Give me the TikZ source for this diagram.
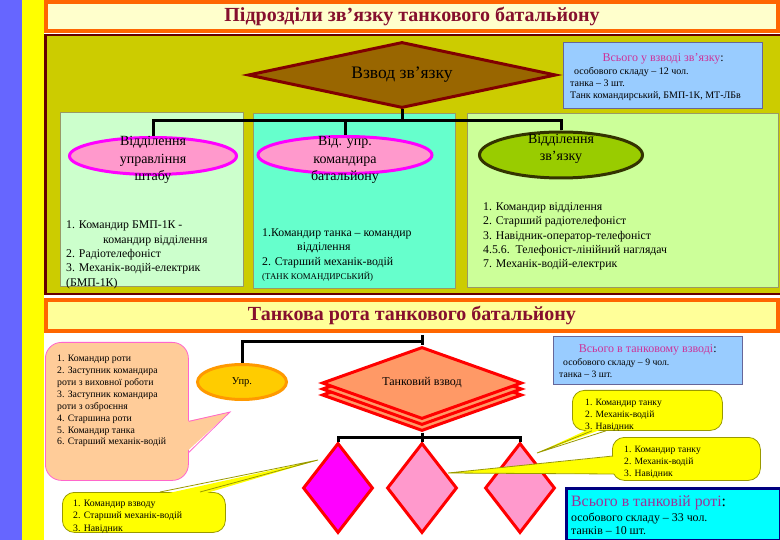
\documentclass[tikz,border=0pt]{standalone}
\usepackage{fontspec}
\setmainfont{Liberation Serif}
\usetikzlibrary{shapes.geometric, calc}

\definecolor{stripblue}{HTML}{6666FF}
\definecolor{stripyellow}{HTML}{FFFF00}
\definecolor{headorange}{HTML}{FF6600}
\definecolor{headred}{HTML}{86102E}
\definecolor{headfillA}{HTML}{FFFFCC}
\definecolor{headfillB}{HTML}{FFFF99}
\definecolor{panelolive}{HTML}{CCCC00}
\definecolor{panelborder}{HTML}{660000}
\definecolor{boxmint}{HTML}{CCFFCC}
\definecolor{boxaqua}{HTML}{66FFCC}
\definecolor{boxlime}{HTML}{CCFF99}
\definecolor{boxedge}{HTML}{999966}
\definecolor{rhombbrown}{HTML}{996600}
\definecolor{rhombedge}{HTML}{800000}
\definecolor{infoblue}{HTML}{99CCFF}
\definecolor{infoedge}{HTML}{666699}
\definecolor{ovalpink}{HTML}{FF99CC}
\definecolor{ovalmagenta}{HTML}{FF00FF}
\definecolor{ovalgreen}{HTML}{99CC00}
\definecolor{ovaledge}{HTML}{333300}
\definecolor{titlemagenta}{HTML}{CC3399}
\definecolor{uprgold}{HTML}{FFCC00}
\definecolor{upredge}{HTML}{FF9900}
\definecolor{platoonsalmon}{HTML}{FF9966}
\definecolor{tankpink}{HTML}{FF99CC}
\definecolor{tankmagenta}{HTML}{FF00FF}
\definecolor{peach}{HTML}{FFCC99}
\definecolor{peachedge}{HTML}{FF66CC}
\definecolor{bubbleyellow}{HTML}{FFFF00}
\definecolor{bubbleedge}{HTML}{999900}
\definecolor{totalcyan}{HTML}{00FFFF}
\definecolor{totaledge}{HTML}{000080}
\definecolor{totalpurple}{HTML}{993399}

\begin{document}
\begin{tikzpicture}[x=1pt, y=-1pt,
    tree/.style={line width=3pt, black},
    headbox/.style={draw=headorange, line width=4pt, minimum width=732pt, inner sep=0pt,
        text=headred, font=\bfseries\fontsize{20}{24}\selectfont},
    unitbox/.style={draw=#1, line width=0.8pt, anchor=north west, inner sep=0pt},
    pinkoval/.style={ellipse, draw=ovalmagenta, line width=3pt, fill=ovalpink, inner sep=0pt},
    ovaltext/.style={align=center, inner sep=0pt, font=\fontsize{14}{17.4}\selectfont},
    listtext/.style={align=left, anchor=north west, inner sep=0pt},
    infobox/.style={draw=infoedge, line width=1pt, fill=infoblue, anchor=north west, inner sep=0pt},
    platoon/.style={diamond, shape aspect=2.8, draw=red, line width=3pt, fill=platoonsalmon, inner sep=0pt,
        minimum width=200pt, minimum height=72pt},
    tankrhomb/.style={diamond, draw=red, line width=3pt, inner sep=0pt,
        minimum width=70pt, minimum height=90pt},
    bubble/.style={fill=bubbleyellow, draw=bubbleedge, line width=0.8pt, rounded corners=12pt,
        anchor=north west, inner sep=0pt},
]
    % Page and side strips
    \useasboundingbox (0,0) rectangle (780,540);
    \fill[white] (0,0) rectangle (780,540);
    \fill[stripblue] (0,0) rectangle (22,540);
    \fill[stripyellow] (22,0) rectangle (44,540);

    % Upper part: signal platoon
    \node[headbox, fill=headfillA, minimum height=29pt] (head1) at (412,16.5) {Підрозділи зв’язку танкового батальйону};
    \draw[fill=panelolive, draw=panelborder, line width=2.5pt] (45.5,35) rectangle (781,294);

    \node[unitbox=boxedge, fill=boxmint, minimum width=183pt, minimum height=174pt] (box1) at (60,112) {};
    \node[unitbox=boxedge, fill=boxaqua, minimum width=202pt, minimum height=175pt] (box2) at (253,113) {};
    \node[unitbox=boxedge, fill=boxlime, minimum width=311pt, minimum height=174pt] (box3) at (467,113) {};

    \node[diamond, shape aspect=4.6, draw=rhombedge, fill=rhombbrown, line width=3pt, minimum width=308pt, minimum height=66pt,
        inner sep=0pt, font=\fontsize{17.5}{20}\selectfont] (vzvod) at (402,75) {Взвод зв’язку};

    \node[infobox, minimum width=199pt, minimum height=66pt] (info1) at (563,42) {};
    \node[listtext, font=\fontsize{10}{12}\selectfont] (info1-text) at (570,53.3)
        {\makebox[186pt]{\fontsize{12}{13}\selectfont\color{titlemagenta}Всього у взводі зв’язку\color{black}:}\\[1.5pt]
         \hspace*{4pt}особового складу – 12 чол.\\танка – 3 шт.\\Танк командирський, БМП-1К, МТ-ЛБв};

    % Sections of the platoon
    \node[pinkoval, minimum width=167pt, minimum height=37pt] (shtab) at (153,156) {};
    \node[pinkoval, minimum width=174pt, minimum height=37pt] (komandyr) at (345,155) {};
    \node[ellipse, draw=ovaledge, fill=ovalgreen, line width=3pt, minimum width=163pt, minimum height=46pt,
        inner sep=0pt] (zvyazok) at (561,155) {};

    \coordinate (bus1) at (402,121);
    \draw[tree] (vzvod.south) -- (bus1);
    \draw[tree] (shtab.north) |- (bus1) -| (zvyazok.north);
    \draw[tree] (bus1) -| (komandyr.north);

    \node[ovaltext] (shtab-text) at (153,160) {Відділення\\управління\\штабу};
    \node[ovaltext] (komandyr-text) at (345,160) {Від. упр.\\командира\\батальйону};
    \node[ovaltext] (zvyazok-text) at (561,149) {Відділення\\зв’язку};

    \node[listtext, font=\fontsize{11.8}{14.3}\selectfont] (box1-text) at (66,221)
        {1. Командир БМП-1К -\\\hspace*{37pt}командир відділення\\2. Радіотелефоніст\\3. Механік-водій-електрик\\(БМП-1К)};
    \node[listtext, font=\fontsize{11.8}{14.3}\selectfont] (box2-text) at (262,228.7)
        {1.Командир танка – командир\\\hspace*{35pt}відділення\\2. Старший механік-водій\\{\fontsize{8.8}{10}\selectfont(ТАНК КОМАНДИРСЬКИЙ)}};
    \node[listtext, font=\fontsize{11.8}{14.2}\selectfont] (box3-text) at (483,202.7)
        {1. Командир відділення\\2. Старший радіотелефоніст\\3. Навідник-оператор-телефоніст\\4.5.6.\ \ Телефоніст-лінійний наглядач\\7. Механік-водій-електрик};

    % Lower part: tank company
    \node[headbox, fill=headfillB, minimum height=31pt] (head2) at (412,315.5) {Танкова рота танкового батальйону};

    \node[ellipse, draw=upredge, fill=uprgold, line width=3pt, minimum width=89pt, minimum height=35pt,
        inner sep=0pt, font=\fontsize{10.5}{12}\selectfont] (upr) at (242,382) {Упр.};

    \node[platoon] (platoon3) at (422,395) {};
    \node[platoon] (platoon2) at (422,389) {};
    \node[platoon, font=\fontsize{12}{14}\selectfont] (platoon) at (422,383) {Танковий взвод};

    \node[tankrhomb, fill=tankmagenta] (tank1) at (338,488) {};
    \node[tankrhomb, fill=tankpink] (tank2) at (422,488) {};
    \node[tankrhomb, fill=tankpink] (tank3) at (520,488) {};

    \coordinate (bus2) at (422,342);
    \coordinate (bus3) at (422,437);
    \draw[tree] ($(head2.south -| platoon.north)+(0,2)$) -- (platoon.north);
    \draw[tree] (bus2) -| (upr.north);
    \draw[tree] (platoon3.south) -- (bus3);
    \draw[tree] (tank1.north) |- (bus3) -| (tank3.north);
    \draw[tree] (bus3) -- (tank2.north);

    \node[infobox, minimum width=189pt, minimum height=48pt] (info2) at (553,336) {};
    \node[listtext, font=\fontsize{9.7}{11.6}\selectfont] (info2-text) at (559,344.3)
        {\makebox[177pt]{\fontsize{12}{13}\selectfont\color{titlemagenta}Всього в танковому взводі\color{black}:}\\[1.5pt]
         \hspace*{4pt}особового складу – 9 чол.\\танка – 3 шт.};

    % Callouts
    \node[bubble, fill=peach, draw=peachedge, rounded corners=16pt, minimum width=143pt, minimum height=138pt] (rota) at (45,342) {};
    \coordinate (rota-tip) at (230,412);
    \fill[peach] ($(rota.east)+(-3,10)$) -- (rota-tip) -- ($(rota.east)+(-3,41)$) -- cycle;
    \draw[peachedge, line width=0.8pt] ($(rota.east)+(0,10)$) -- (rota-tip) -- ($(rota.east)+(0,41)$);
    \node[listtext, font=\fontsize{9.8}{11.9}\selectfont] (rota-text) at (57,355)
        {1. Командир роти\\2. Заступник командира\\роти з виховної роботи\\3. Заступник командира\\роти з озброєння\\4. Старшина роти\\5. Командир танка\\6. Старший механік-водій};

    \node[bubble, minimum width=163pt, minimum height=40pt] (vzvodnyi) at (62,492) {};
    \coordinate (vzvodnyi-tip) at (318,460);
    \fill[bubbleyellow] ($(vzvodnyi.north west)+(98,3)$) -- (vzvodnyi-tip) -- ($(vzvodnyi.north west)+(138,3)$) -- cycle;
    \draw[bubbleedge, line width=0.8pt] ($(vzvodnyi.north west)+(98,0)$) -- (vzvodnyi-tip) -- ($(vzvodnyi.north west)+(138,0)$);
    \node[listtext, font=\fontsize{9.8}{12.2}\selectfont] (vzvodnyi-text) at (73,500)
        {1. Командир взводу\\2. Старший механік-водій\\3. Навідник};

    \node[bubble, minimum width=150pt, minimum height=40pt] (tanku1) at (572,390) {};
    \coordinate (tanku1-tip) at (537,453);
    \fill[bubbleyellow] ($(tanku1.south west)+(20,-3)$) -- (tanku1-tip) -- ($(tanku1.south west)+(34,-3)$) -- cycle;
    \draw[bubbleedge, line width=0.8pt] ($(tanku1.south west)+(20,0)$) -- (tanku1-tip) -- ($(tanku1.south west)+(34,0)$);
    \node[listtext, font=\fontsize{9.6}{12.2}\selectfont] (tanku1-text) at (585,398.6)
        {1. Командир танку\\2. Механік-водій\\3. Навідник};

    \node[bubble, minimum width=148pt, minimum height=43pt] (tanku2) at (612,437) {};
    \coordinate (tanku2-tip) at (448,473);
    \fill[bubbleyellow] ($(tanku2.north west)+(5,19)$) -- (tanku2-tip) -- ($(tanku2.north west)+(5,37)$) -- cycle;
    \draw[bubbleedge, line width=0.8pt] ($(tanku2.north west)+(1,19)$) -- (tanku2-tip) -- ($(tanku2.north west)+(2,37)$);
    \node[listtext, font=\fontsize{9.6}{12}\selectfont] (tanku2-text) at (624,446.2)
        {1. Командир танку\\2. Механік-водій\\3. Навідник};

    % Company totals
    \node[anchor=north west, draw=totaledge, fill=totalcyan, line width=3pt, minimum width=214pt, minimum height=52pt,
        inner sep=0pt] (total) at (565,487) {};
    \node[listtext, font=\fontsize{11.9}{12.3}\selectfont] (total-text) at (571,495.5)
        {{\fontsize{15.8}{17}\selectfont\color{totalpurple}Всього в танковій роті\color{black}:}\\[3pt]
         особового складу – 33 чол.\\танків – 10 шт.};
\end{tikzpicture}
\end{document}
